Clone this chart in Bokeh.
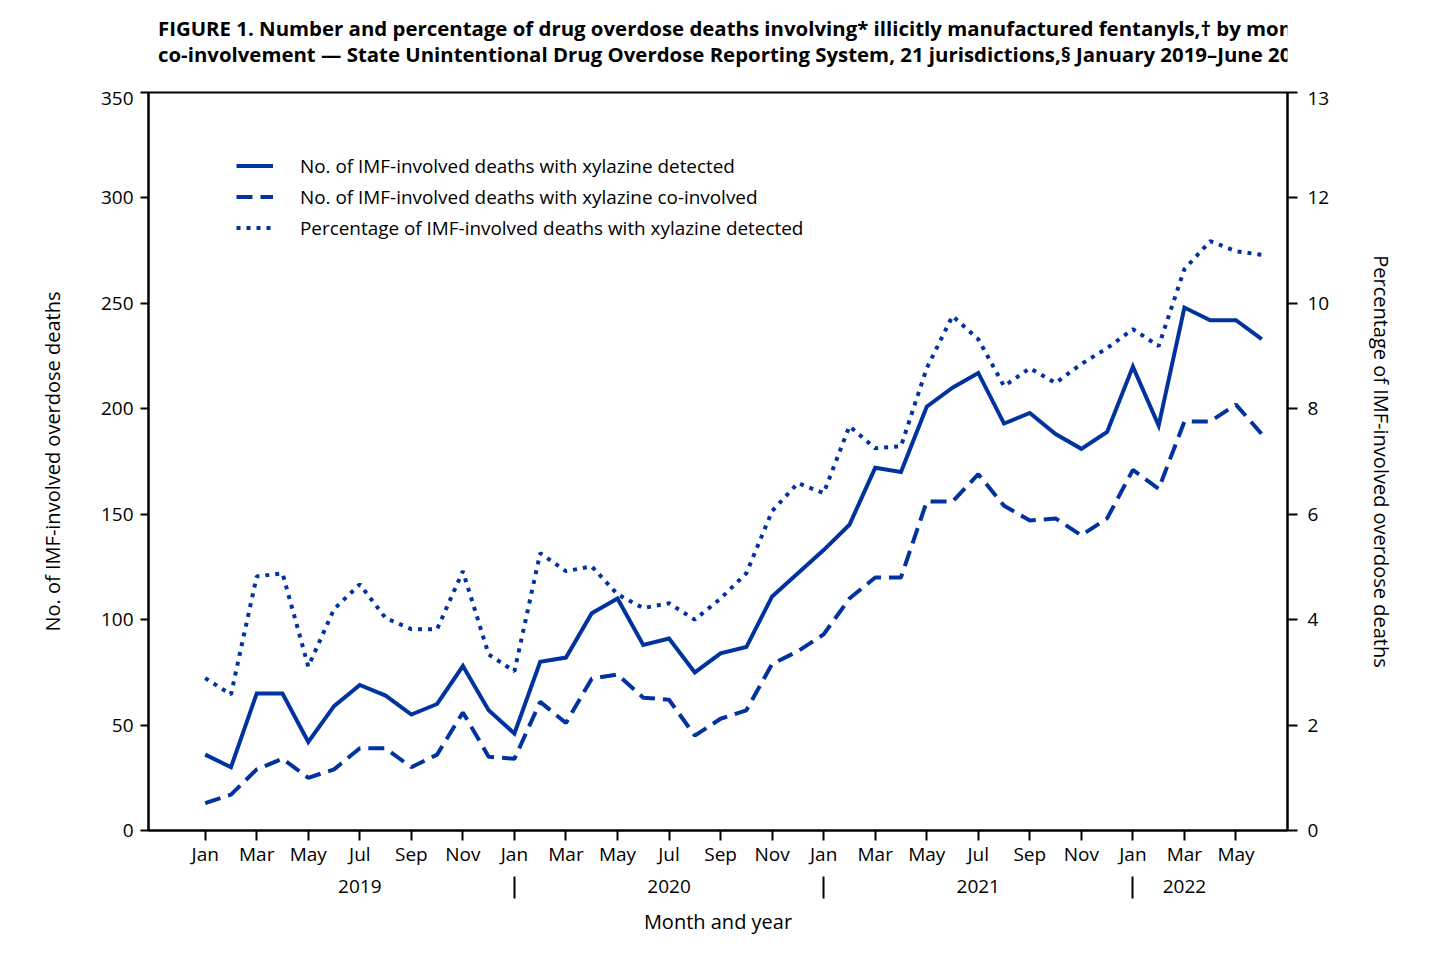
from bokeh.plotting import figure
from bokeh.layouts import column
from bokeh.models import Range1d, LinearAxis, FixedTicker, Legend, LegendItem
from bokeh.core.properties import value
from bokeh.embed import file_html
from bokeh.resources import INLINE

# ---------------- data ----------------
month_names = ["Jan", "Feb", "Mar", "Apr", "May", "Jun",
               "Jul", "Aug", "Sep", "Oct", "Nov", "Dec"]
years = ["2019", "2020", "2021", "2022"]
year_label_pos = [6, 18, 30, 38]      # month index where the year label sits
year_separators = [12, 24, 36]        # month index of each January boundary

month_index = list(range(42))         # Jan 2019 ... Jun 2022

detected = [36, 30, 65, 65, 42, 59, 69, 64, 55, 60, 78, 57,
            46, 80, 82, 103, 110, 88, 91, 75, 84, 87, 111, 122,
            133, 145, 172, 170, 201, 210, 217, 193, 198, 188, 181, 189,
            220, 192, 248, 242, 242, 233]

coinvolved = [13, 17, 29, 34, 25, 29, 39, 39, 30, 36, 56, 35,
              34, 61, 51, 72, 74, 63, 62, 45, 53, 57, 79, 85,
              93, 110, 120, 120, 156, 156, 169, 154, 147, 148, 140, 148,
              171, 162, 194, 194, 202, 188]

pct_detected = [2.89, 2.58, 4.82, 4.88, 3.11, 4.20, 4.67, 4.03, 3.82, 3.82, 4.92, 3.34,
                3.02, 5.26, 4.92, 5.01, 4.48, 4.22, 4.31, 4.00, 4.40, 4.88, 6.06, 6.59,
                6.40, 7.67, 7.25, 7.29, 8.77, 9.76, 9.32, 8.43, 8.77, 8.49, 8.85, 9.15,
                9.51, 9.19, 10.65, 11.18, 10.99, 10.92]

left_ticks = [0, 50, 100, 150, 200, 250, 300, 350]
right_ticks = [0, 2, 4, 6, 8, 10, 12, 14]
right_tick_labels = ["0", "2", "4", "6", "8", "10", "12", "13"]

legend_labels = ["No. of IMF-involved deaths with xylazine detected",
                 "No. of IMF-involved deaths with xylazine co-involved",
                 "Percentage of IMF-involved deaths with xylazine detected"]

title_lines = [("FIGURE 1. Number and percentage of drug overdose deaths involving* "
                "illicitly manufactured fentanyls,\u2020 by month and xylazine detection or"),
               ("co-involvement \u2014 State Unintentional Drug Overdose Reporting System, "
                "21 jurisdictions,\u00a7 January 2019\u2013June 2022")]

# ---------------- styling ----------------
FONT = "Open Sans"
BLUE = "#0033A0"

# --- title strip (pixel coordinates: x right, y down) ---
t = figure(width=1440, height=91, x_range=Range1d(0, 1440), y_range=Range1d(91, 0),
           output_backend="svg", toolbar_location=None,
           x_axis_location=None, y_axis_location=None,
           min_border_left=0, min_border_right=0, min_border_top=0, min_border_bottom=0,
           background_fill_color="white", border_fill_color="white")
t.grid.visible = False
t.outline_line_color = None
t.text(x=[12, 12], y=[27, 53], text=title_lines,
       text_font=value(FONT), text_font_size="20.4px", text_font_style="bold",
       text_color="black", text_align="left", text_baseline="middle")

# --- main chart ---
p = figure(frame_width=1139, frame_height=738,
           x_range=Range1d(-2.2, 42.0), y_range=Range1d(0, 350),
           output_backend="svg", toolbar_location=None,
           min_border_left=148, min_border_right=153,
           min_border_top=1, min_border_bottom=100,
           background_fill_color="white", border_fill_color="white")

p.extra_y_ranges = {"pct": Range1d(0, 14)}

p.grid.visible = False
p.outline_line_color = "black"
p.outline_line_width = 2

# Month axis
xa = p.xaxis[0]
xa.ticker = FixedTicker(ticks=[i for i in month_index if i % 2 == 0], minor_ticks=[])
xa.major_label_overrides = {i: month_names[i % 12] for i in month_index if i % 2 == 0}
xa.major_tick_in = 0
xa.major_tick_out = 10
xa.major_tick_line_width = 2
xa.axis_line_width = 2
xa.major_label_standoff = 0
xa.major_label_text_font = FONT
xa.major_label_text_font_size = "19px"
xa.major_label_text_color = "black"
xa.axis_label = " "
xa.axis_label_text_font_size = "1px"
xa.axis_label_standoff = 3

# Year axis (labels + separators as minor ticks)
ya_year = LinearAxis(ticker=FixedTicker(ticks=year_label_pos, minor_ticks=year_separators))
ya_year.major_label_overrides = {pos: y for pos, y in zip(year_label_pos, years)}
ya_year.axis_line_color = None
ya_year.major_tick_line_color = None
ya_year.major_tick_out = 0
ya_year.major_tick_in = 0
ya_year.minor_tick_in = 0
ya_year.minor_tick_out = 22
ya_year.minor_tick_line_width = 2
ya_year.minor_tick_line_color = "black"
ya_year.major_label_standoff = -19
ya_year.major_label_text_font = FONT
ya_year.major_label_text_font_size = "19px"
ya_year.major_label_text_color = "black"
ya_year.axis_label = "Month and year"
ya_year.axis_label_text_font = FONT
ya_year.axis_label_text_font_size = "20px"
ya_year.axis_label_text_font_style = "normal"
ya_year.axis_label_text_color = "black"
ya_year.axis_label_standoff = 12
p.add_layout(ya_year, "below")

# Left axis
la = p.yaxis[0]
la.ticker = FixedTicker(ticks=left_ticks, minor_ticks=[])
la.major_tick_in = 0
la.major_tick_out = 8
la.major_tick_line_width = 2
la.axis_line_width = 2
la.major_label_standoff = 7
la.major_label_text_font = FONT
la.major_label_text_font_size = "19px"
la.major_label_text_color = "black"
la.axis_label = "No. of IMF-involved overdose deaths"
la.axis_label_text_font = FONT
la.axis_label_text_font_size = "20px"
la.axis_label_text_font_style = "normal"
la.axis_label_text_color = "black"
la.axis_label_standoff = 32

# Right axis
ra = LinearAxis(y_range_name="pct",
                ticker=FixedTicker(ticks=right_ticks, minor_ticks=[]))
ra.major_label_overrides = {tk: lb for tk, lb in zip(right_ticks, right_tick_labels)}
ra.major_tick_in = 0
ra.major_tick_out = 10
ra.major_tick_line_width = 2
ra.axis_line_width = 2
ra.major_label_standoff = 10
ra.major_label_text_font = FONT
ra.major_label_text_font_size = "19px"
ra.major_label_text_color = "black"
ra.axis_label = "Percentage of IMF-involved overdose deaths"
ra.axis_label_text_font = FONT
ra.axis_label_text_font_size = "20px"
ra.axis_label_text_font_style = "normal"
ra.axis_label_text_color = "black"
ra.axis_label_standoff = 36
p.add_layout(ra, "right")

# Lines
r_det = p.line(month_index, detected, line_color=BLUE, line_width=4, line_join="miter")
r_co = p.line(month_index, coinvolved, line_color=BLUE, line_width=4,
              line_dash="16 8", line_cap="butt")
r_pct = p.line(month_index, pct_detected, y_range_name="pct", line_color=BLUE,
               line_width=4, line_dash="4 6", line_cap="butt")

legend = Legend(items=[LegendItem(label=legend_labels[0], renderers=[r_det]),
                       LegendItem(label=legend_labels[1], renderers=[r_co]),
                       LegendItem(label=legend_labels[2], renderers=[r_pct])],
                location=(88, 587), orientation="vertical",
                border_line_color=None, background_fill_alpha=0,
                glyph_width=37, glyph_height=31, label_height=31,
                label_standoff=27, spacing=0, padding=10, margin=0,
                label_text_font=FONT, label_text_font_size="18.9px",
                label_text_color="black")
p.add_layout(legend, "center")

layout = column(t, p, spacing=0)
open("out.html", "w").write(file_html(layout, INLINE))
